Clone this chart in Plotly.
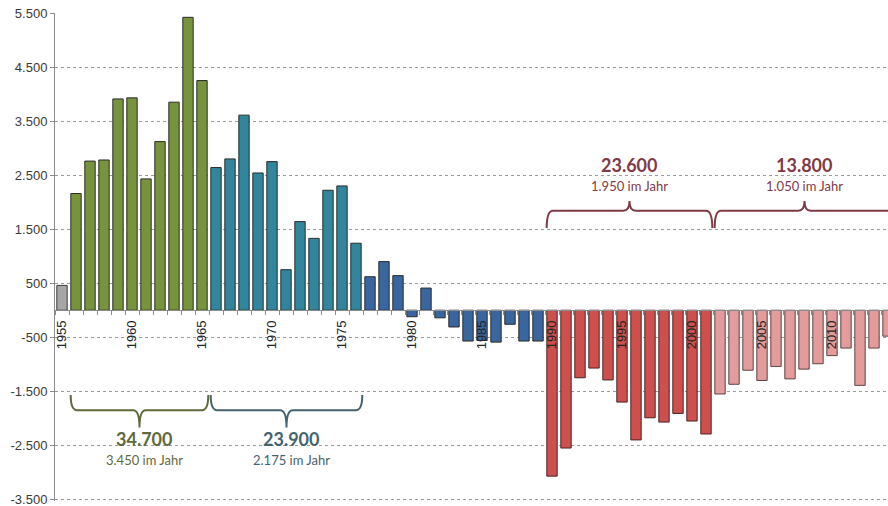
import plotly.graph_objects as go

# Jährlicher Wanderungssaldo, 1955 bis 2014
years = list(range(1955, 2015))
saldo = [
    460,                                                         # 1955
    2160, 2760, 2780, 3910, 3930, 2430, 3120, 3850, 5420, 4250,  # 1956-1965
    2640, 2800, 3610, 2540, 2750, 750, 1640, 1330, 2220, 2300, 1240,  # 1966-1976
    620, 900, 640,                                               # 1977-1979
    -120, 410, -140, -310, -570, -560, -590, -260, -570, -570,   # 1980-1989
    -3070, -2550, -1250, -1070, -1290, -1700, -2400, -1990, -2070, -1910, -2050, -2290,  # 1990-2001
    -1550, -1370, -1110, -1300, -1040, -1270, -1090, -990, -840, -700, -1390, -700, -480,  # 2002-2014
]

# Abschnitte mit eigener Balkenfarbe
period_first = [1955, 1956, 1966, 1977, 1990, 2002]
period_last = [1955, 1965, 1976, 1989, 2001, 2014]
period_fill = ["#a6a6a6", "#77933c", "#31859c", "#3a66a0", "#cd504e", "#e39b9b"]
period_edge = ["#3a3a3a", "#2b2b2b", "#2b2b2b", "#2b2b2b", "#4a2424", "#5e4444"]

# Geschweifte Klammern: Zeitraum, Summe, Durchschnitt pro Jahr
brace_first = [1956, 1966, 1990, 2002]
brace_last = [1965, 1976, 2001, 2014]
brace_total = ["34.700", "23.900", "23.600", "13.800"]
brace_avg = ["3.450 im Jahr", "2.175 im Jahr", "1.950 im Jahr", "1.050 im Jahr"]
brace_below = [True, True, False, False]
brace_color = ["#5f6a3c", "#45636e", "#7f3a45", "#7f3a45"]

y_ticks = list(range(-3500, 5501, 1000))
x_label_years = list(range(1955, 2014, 5))
y_min, y_max = -3530, 5500


def de_number(v):
    s = f"{abs(v):,}".replace(",", ".")
    return ("-" if v < 0 else "") + s


def period_index(y):
    for i, (a, b) in enumerate(zip(period_first, period_last)):
        if a <= y <= b:
            return i
    return 0


fills = [period_fill[period_index(y)] for y in years]
edges = [period_edge[period_index(y)] for y in years]

fig = go.Figure()
fig.add_trace(go.Bar(
    x=years, y=saldo,
    marker=dict(color=fills, line=dict(color=edges, width=1)),
    hoverinfo="x+y",
))

shapes = []
annotations = []
for a, b, tot, avg, below, col in zip(brace_first, brace_last, brace_total,
                                       brace_avg, brace_below, brace_color):
    x0, x1 = a - 0.38, b + 0.45
    xm = (x0 + x1) / 2
    r = 0.45
    if below:
        y_end, y_h, y_tip = -1570, -1850, -2170
        y_num, y_avg = -2380, -2770
        xt = xm + 0.35
    else:
        y_end, y_h, y_tip = 1520, 1840, 2020
        y_num, y_avg = 2680, 2290
        xt = xm
    path = (f"M {x0},{y_end} Q {x0},{y_h} {x0 + r},{y_h} "
            f"L {xm - r},{y_h} Q {xm},{y_h} {xm},{y_tip} "
            f"Q {xm},{y_h} {xm + r},{y_h} "
            f"L {x1 - r},{y_h} Q {x1},{y_h} {x1},{y_end}")
    shapes.append(dict(type="path", path=path, xref="x", yref="y",
                       line=dict(color=col, width=2)))
    annotations.append(dict(x=xt, y=y_num, xref="x", yref="y", text=f"<b>{tot}</b>",
                            showarrow=False, font=dict(family="Lato", size=18, color=col)))
    annotations.append(dict(x=xt, y=y_avg, xref="x", yref="y", text=avg,
                            showarrow=False, font=dict(family="Lato", size=13, color=col)))

fig.update_layout(
    width=888, height=506,
    margin=dict(l=55, r=0, t=13, b=5),
    paper_bgcolor="white", plot_bgcolor="white",
    showlegend=False,
    bargap=0.26,
    shapes=shapes,
    annotations=annotations,
    font=dict(family="Liberation Sans", size=12, color="#3a3a3a"),
)

fig.update_yaxes(
    range=[y_min, y_max],
    tickvals=y_ticks,
    ticktext=[de_number(v) for v in y_ticks],
    showgrid=True, gridcolor="#9a9a9a", griddash="dot", gridwidth=1,
    showline=True, linecolor="#8c8c8c", linewidth=1,
    ticks="outside", ticklen=4, tickcolor="#8c8c8c",
    zeroline=False, automargin=False, ticklabeloverflow="allow",
    tickfont=dict(family="Liberation Sans", size=13, color="#3a3a3a"),
)

fig.update_xaxes(
    range=[1954.5, 2014.0],
    anchor="free", position=-y_min / (y_max - y_min),
    showgrid=False, zeroline=False,
    showline=True, linecolor="#8c8c8c", linewidth=1,
    tickmode="array", tickvals=x_label_years,
    ticktext=[str(y) for y in x_label_years],
    ticks="", tickangle=-90, automargin=False, ticklabelstandoff=4,
    minor=dict(ticks="outside", tick0=1954.5, dtick=1, ticklen=4,
               tickcolor="#8c8c8c", showgrid=False),
    tickfont=dict(family="Liberation Sans", size=13, color="#222222"),
)

fig.write_html("out.html")
